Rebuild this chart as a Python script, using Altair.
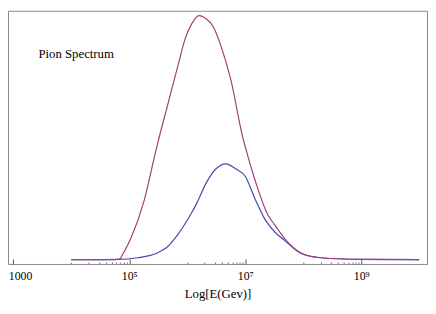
import altair as alt
import pandas as pd

# log10(E / GeV) and spectrum values (arbitrary units)
log_e_red = [4.00, 4.77, 4.834, 4.89, 5.025, 5.257, 5.426, 5.499, 5.651, 5.849,
             5.956, 6.074, 6.205, 6.328, 6.442, 6.582, 6.751, 6.955, 7.00, 7.174,
             7.394, 7.51, 7.682, 7.964, 8.303, 8.98, 10.0]
pion_red = [4.5, 4.5, 5.0, 10.5, 26.5, 66.5, 110.0, 128.5, 164.0, 210.0,
            234.5, 251.5, 260.5, 257.0, 249.5, 228.5, 193.5, 133.5, 123.0, 87.0,
            51.0, 41.0, 26.5, 11.5, 6.5, 4.8, 4.5]

log_e_blue = [4.00, 4.805, 5.144, 5.482, 5.65, 5.821, 6.074, 6.16, 6.328, 6.497,
              6.666, 6.835, 7.005, 7.174, 7.343, 7.51, 7.682, 7.964, 8.303, 8.98, 10.0]
pion_blue = [4.5, 4.8, 6.5, 11.5, 17.5, 29.5, 53.5, 63.0, 85.0, 99.8,
             105.0, 99.8, 91.5, 67.5, 46.5, 33.5, 24.5, 11.0, 6.5, 4.8, 4.5]

major_ticks = [1e3, 1e5, 1e7, 1e9]
minor_ticks = [1e4, 2e4, 3e4, 4e4, 5e4, 6e4, 7e4, 8e4, 9e4,
               1e6, 2e6, 3e6, 4e6, 5e6, 6e6, 7e6, 8e6, 9e6,
               1e8, 2e8, 3e8, 4e8, 5e8, 6e8, 7e8, 8e8, 9e8]

annotation_text = ["Pion Spectrum"]
annotation_log_e = [3.435]
annotation_value = [216.0]

x_domain = [10 ** 2.91, 10 ** 10.135]
y_domain = [0, 265.5]

SERIF = "Liberation Serif"

df_red = pd.DataFrame({"E": [10 ** v for v in log_e_red], "v": pion_red})
df_blue = pd.DataFrame({"E": [10 ** v for v in log_e_blue], "v": pion_blue})
df_text = pd.DataFrame({"E": [10 ** v for v in annotation_log_e],
                        "v": annotation_value, "label": annotation_text})

x_scale = alt.Scale(type="log", domain=x_domain)
y_scale = alt.Scale(domain=y_domain)

major_axis = alt.Axis(
    values=major_ticks, orient="bottom", offset=-5, tickSize=5, tickColor="#555",
    tickWidth=1, domain=False, grid=False,
    labelExpr="datum.value < 5000 ? '1000' : datum.value < 5e5 ? '10⁵' : datum.value < 5e7 ? '10⁷' : '10⁹'",
    labelFont=SERIF, labelFontSize=12, labelColor="black", labelPadding=7,
    labelAlign={"condition": {"test": "datum.value < 5000", "value": "left"}, "value": "center"},
    labelOffset={"condition": {"test": "datum.value < 5000", "value": -5}, "value": 0},
    labelFlush=False, labelOverlap=False,
    title="Log[E(Gev)]", titleFont=SERIF, titleFontSize=13,
    titleFontWeight="normal", titleColor="black", titlePadding=6,
)
minor_axis = alt.Axis(
    values=minor_ticks, orient="bottom", offset=-2, tickSize=2, tickColor="#777",
    tickWidth=1, domain=False, grid=False, labels=False, title=None,
)

blue = alt.Chart(df_blue).mark_line(color="#4a4aab", strokeWidth=1.2, interpolate="monotone").encode(
    x=alt.X("E:Q", scale=x_scale, axis=major_axis),
    y=alt.Y("v:Q", scale=y_scale, axis=None),
)
red = alt.Chart(df_red).mark_line(color="#a03d78", strokeWidth=1.2, interpolate="monotone").encode(
    x=alt.X("E:Q", scale=x_scale, axis=None),
    y=alt.Y("v:Q", scale=y_scale, axis=None),
)
text = alt.Chart(df_text).mark_text(
    align="left", baseline="alphabetic", font=SERIF, fontSize=13, color="black"
).encode(
    x=alt.X("E:Q", scale=x_scale, axis=minor_axis),
    y=alt.Y("v:Q", scale=y_scale, axis=None),
    text="label:N",
)

chart = alt.layer(blue, red, text).resolve_axis(x="independent").properties(
    width=427, height=258,
    autosize="none",
    padding={"left": 0, "top": 0, "right": 1, "bottom": 40},
    background="white",
).configure(font=SERIF).configure_view(stroke="#888", strokeWidth=1)

chart.save("out.html", embed_options={"renderer": "svg", "actions": False})
